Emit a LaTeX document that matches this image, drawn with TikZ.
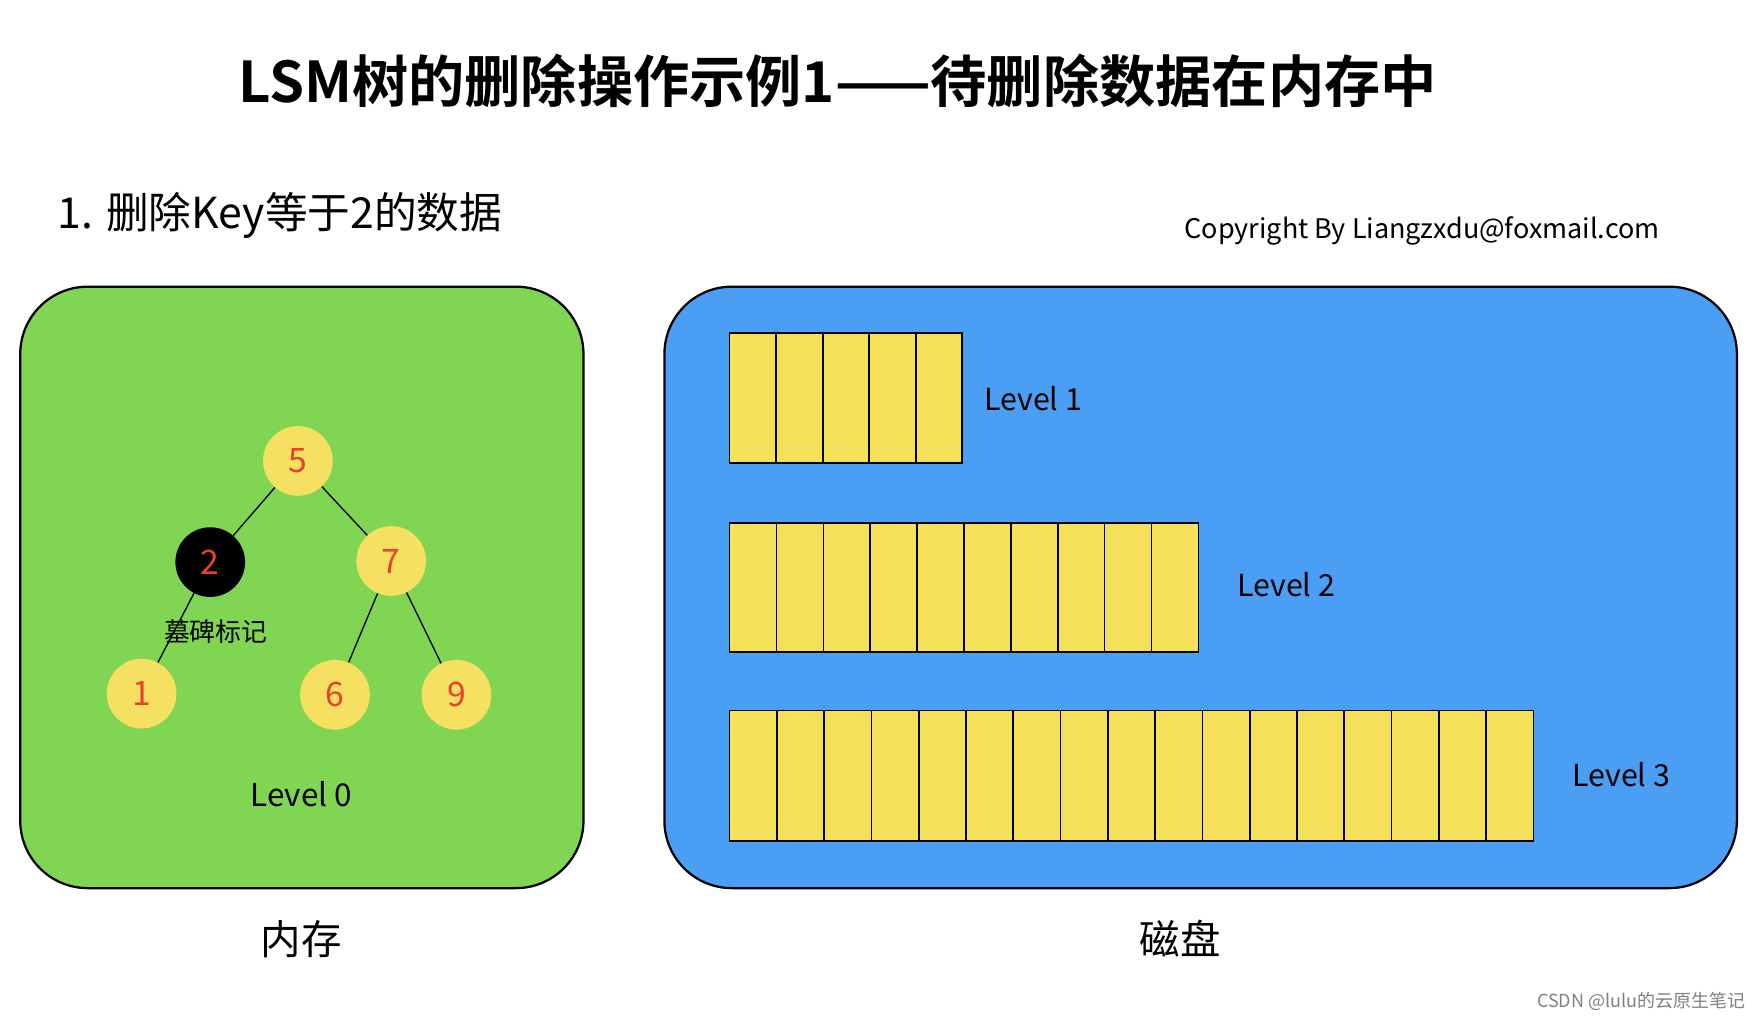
\documentclass[tikz,border=0pt]{standalone}
\usepackage{fontspec}
\setmainfont{Noto Sans CJK SC}
\newfontfamily\cjkb{Noto Sans CJK SC}[BoldFont={* Bold}]
\begin{document}
\begin{tikzpicture}[x=1pt,y=-1pt,
  nd/.style={circle,fill=yellow!60!orange!45!white,fill=tnode,minimum size=62pt,inner sep=0pt,text=tred,font=\fontsize{30}{30}\selectfont},
  cell/.style={draw=black,line width=1.5pt,fill=tcell},
  lbl/.style={font=\fontsize{27}{27}\selectfont,anchor=west}]
\definecolor{tnode}{HTML}{F6E062}
\definecolor{tred}{HTML}{E8412E}
\definecolor{tcell}{HTML}{F5E05A}
\definecolor{tgreen}{HTML}{80D653}
\definecolor{tblue}{HTML}{4A9FF5}
\useasboundingbox (0,0) rectangle (1562,906);
\node (title) at (745,72) {\cjkb\bfseries\fontsize{50}{50}\selectfont LSM树的删除操作示例1——待删除数据在内存中};
\node[anchor=west] (sub) at (48,192) {\fontsize{38}{38}\selectfont 1. 删除Key等于2的数据};
\node (copy) at (1265,205) {\fontsize{24}{24}\selectfont Copyright By Liangzxdu@foxmail.com};
\draw[line width=2pt,fill=tgreen,rounded corners=60pt] (18,255) rectangle (519,790);
\draw[line width=2pt,fill=tblue,rounded corners=60pt] (591,255) rectangle (1545,790);
\node[nd] (n5) at (265,410) {5};
\node[nd,fill=black] (n2) at (187,500) {2};
\node[nd] (n7) at (348,499) {7};
\node[nd] (n1) at (126,617) {1};
\node[nd] (n6) at (298,618) {6};
\node[nd] (n9) at (406,618) {9};
\draw[line width=1.2pt] (n5)--(n2) (n5)--(n7) (n2)--(n1) (n7)--(n6) (n7)--(n9);
\node (tomb) at (192,562) {\fontsize{23}{23}\selectfont 墓碑标记};
\node (l0) at (268,706) {\fontsize{28}{28}\selectfont Level 0};
\foreach \i in {0,...,4} \draw[cell] (649+\i*41.4,296) rectangle (649+\i*41.4+41.4,412);
\foreach \i in {0,...,9} \draw[cell] (649+\i*41.7,465) rectangle (649+\i*41.7+41.7,580);
\foreach \i in {0,...,16} \draw[cell] (649+\i*42.06,632) rectangle (649+\i*42.06+42.06,748);
\node[lbl] (l1) at (872,355) {Level 1};
\node[lbl] (l2) at (1097,520) {Level 2};
\node[lbl] (l3) at (1395,689) {Level 3};
\node (mem) at (268,835) {\cjkb\fontsize{36}{36}\selectfont 内存};
\node (disk) at (1050,835) {\cjkb\fontsize{36}{36}\selectfont 磁盘};
\node[anchor=east,text=gray] (wm) at (1556,891) {\fontsize{16}{16}\selectfont CSDN @lulu的云原生笔记};
\end{tikzpicture}
\end{document}
